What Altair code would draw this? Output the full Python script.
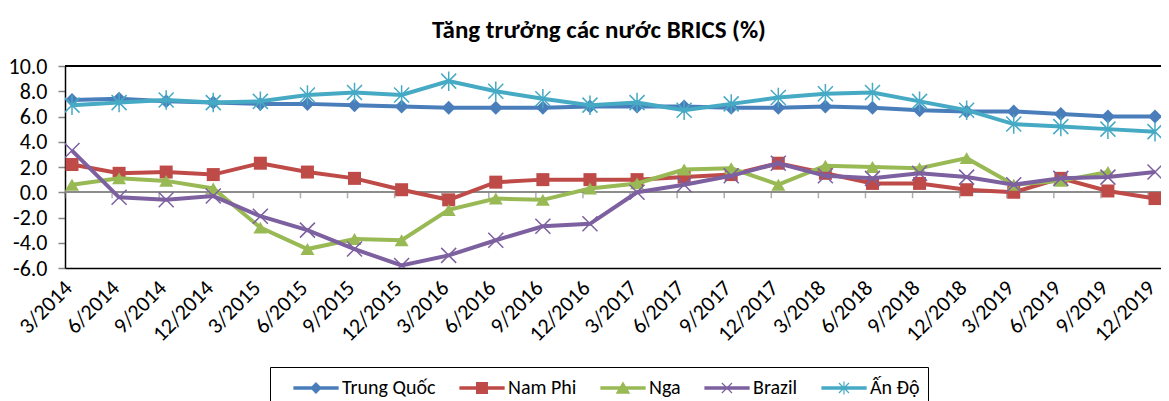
import json
import altair as alt
import pandas as pd

# ---------------- data ----------------
labels = ["3/2014", "6/2014", "9/2014", "12/2014", "3/2015", "6/2015", "9/2015", "12/2015",
          "3/2016", "6/2016", "9/2016", "12/2016", "3/2017", "6/2017", "9/2017", "12/2017",
          "3/2018", "6/2018", "9/2018", "12/2018", "3/2019", "6/2019", "9/2019", "12/2019"]

series_names = ["Trung Quốc", "Nam Phi", "Nga", "Brazil", "Ấn Độ"]

trung_quoc = [7.3, 7.4, 7.2, 7.1, 7.0, 7.0, 6.9, 6.8, 6.7, 6.7, 6.7, 6.8,
              6.8, 6.8, 6.7, 6.7, 6.8, 6.7, 6.5, 6.4, 6.4, 6.2, 6.0, 6.0]
nam_phi = [2.2, 1.5, 1.6, 1.4, 2.3, 1.6, 1.1, 0.2, -0.6, 0.8, 1.0, 1.0,
           1.0, 1.2, 1.4, 2.3, 1.5, 0.7, 0.7, 0.2, 0.0, 1.1, 0.1, -0.5]
nga = [0.6, 1.1, 0.9, 0.3, -2.8, -4.5, -3.7, -3.8, -1.4, -0.5, -0.6, 0.3,
       0.7, 1.8, 1.9, 0.6, 2.1, 2.0, 1.9, 2.7, 0.6, 0.9, 1.6, None]
brazil = [3.3, -0.4, -0.6, -0.3, -1.9, -3.0, -4.5, -5.8, -5.0, -3.8, -2.7, -2.5,
          0.0, 0.6, 1.3, 2.3, 1.3, 1.1, 1.5, 1.2, 0.6, 1.1, 1.2, 1.6]
an_do = [6.9, 7.1, 7.3, 7.1, 7.2, 7.7, 7.9, 7.7, 8.8, 8.0, 7.4, 6.9,
         7.1, 6.5, 7.0, 7.5, 7.8, 7.9, 7.2, 6.5, 5.4, 5.2, 5.0, 4.8]

y_ticks = [-6, -4, -2, 0, 2, 4, 6, 8, 10]

# ---------------- styles ----------------
FONT = "Carlito, Lato, 'Open Sans', sans-serif"
colors = ["#4A7EBB", "#BE4B48", "#98B954", "#7D60A0", "#46AAC5"]

marker_paths = [
    "M0,-1L1,0L0,1L-1,0Z",
    "M-1,-1L1,-1L1,1L-1,1Z",
    "M0,-0.85L1,0.85L-1,0.85Z",
    "M-1,-1L1,1M-1,1L1,-1",
    "M-1,-1L1,1M-1,1L1,-1M0,-1.3L0,1.3",
]
marker_filled = [True, True, True, False, False]
marker_sizes = [196, 169, 196, 225, 225]

BAR = "M0.25,-0.09L3.92,-0.09L3.92,0.09L0.25,0.09Z"
C = 2.08
legend_paths = [
    BAR + f"M{C},-0.42L{C+0.42},0L{C},0.42L{C-0.42},0Z",
    BAR + f"M{C-0.45},-0.45L{C+0.45},-0.45L{C+0.45},0.45L{C-0.45},0.45Z",
    BAR + f"M{C},-0.45L{C+0.52},0.42L{C-0.52},0.42Z",
    BAR + f"M{C-0.42},-0.42L{C+0.42},0.42M{C-0.42},0.42L{C+0.42},-0.42",
    BAR + f"M{C-0.42},-0.42L{C+0.42},0.42M{C-0.42},0.42L{C+0.42},-0.42M{C},-0.55L{C},0.55",
]

# ---------------- tables ----------------
rows = []
for s, vals in zip(series_names, [trung_quoc, nam_phi, nga, brazil, an_do]):
    for i, v in enumerate(vals):
        if v is not None:
            rows.append({"idx": i, "label": labels[i], "series": s, "value": v})
df = pd.DataFrame(rows)
ticks_df = pd.DataFrame({"idx": list(range(len(labels)))})

STEP = 47.09
W, H = 1096, 202
PAD_CAT = 7 / STEP
x_scale = alt.Scale(domain=[-PAD_CAT, len(labels) - 1 + 6 / STEP], nice=False, zero=False)
y_scale = alt.Scale(domain=[-6, 10], nice=False)

x_axis = alt.Axis(
    values=list(range(len(labels))),
    labelExpr=f"{json.dumps(labels, ensure_ascii=False)}[datum.value]",
    labelAngle=-45, labelAlign="right", labelBaseline="middle",
    labelPadding=16, labelOffset=-4, ticks=False, domainColor="black", domainWidth=1.5,
    grid=False, title=None, labelFont=FONT, labelFontSize=22, labelColor="black",
    labelOverlap=False, labelFlush=False,
)
y_axis = alt.Axis(
    values=y_ticks,
    labelExpr="replace(format(datum.value, '.1f'), '\u2212', '-')",
    tickSize=7, tickColor="#868686", tickWidth=1.5, domainColor="black", domainWidth=1.5,
    labelPadding=11, grid=False, title=None, labelFont=FONT, labelFontSize=22,
    labelColor="black",
)

X = alt.X("idx:Q", scale=x_scale, axis=x_axis)
Y = alt.Y("value:Q", scale=y_scale, axis=y_axis)

base = alt.Chart(df)

layers = []
# zero line
layers.append(
    alt.Chart(ticks_df).mark_rule(color="#8C8C8C", strokeWidth=1.5).encode(
        y=alt.YDatum(0, scale=y_scale, axis=y_axis, type="quantitative")
    )
)
# zero-line tick marks at category boundaries
layers.append(
    alt.Chart(ticks_df).transform_calculate(tx=f"datum.idx - {PAD_CAT}").mark_tick(
        orient="vertical", color="#8C8C8C", thickness=1.5, size=6, yOffset=3
    ).encode(
        x=alt.X("tx:Q", scale=x_scale, axis=x_axis),
        y=alt.YDatum(0, scale=y_scale, axis=y_axis, type="quantitative"),
    )
)
for s, col, path, filled, size in zip(series_names, colors, marker_paths, marker_filled, marker_sizes):
    sub = base.transform_filter(alt.datum.series == s)
    layers.append(
        sub.mark_line(strokeWidth=4, color=col, clip=True).encode(x=X, y=Y)
    )
    layers.append(
        sub.mark_point(shape=path, filled=filled, size=size, strokeWidth=1.5,
                       color=col, opacity=1, clip=True).encode(x=X, y=Y)
    )

legend = alt.Legend(
    orient="none", legendX=205, legendY=301, direction="horizontal", title=None,
    strokeColor="black", padding=8, symbolSize=576, symbolStrokeWidth=1.2,
    symbolFillColor="black", symbolStrokeColor="black",
    labelOffset=38, columnPadding=8, labelFont=FONT, labelFontSize=20,
    labelColor="black", symbolOpacity=1, labelLimit=300,
)
legend_layer = base.transform_filter("false").mark_point(filled=True).encode(
    x=X, y=Y,
    fill=alt.Fill("series:N", scale=alt.Scale(domain=series_names, range=colors), legend=legend),
    stroke=alt.Stroke("series:N", scale=alt.Scale(domain=series_names, range=colors), legend=legend),
    shape=alt.Shape("series:N", scale=alt.Scale(domain=series_names, range=legend_paths), legend=legend),
)
layers.append(legend_layer)

# top frame line
layers.append(
    alt.Chart(ticks_df).mark_rule(color="black", strokeWidth=1.5).encode(y=alt.value(0))
)

chart = alt.layer(*layers).properties(
    width=W, height=H,
    title=alt.TitleParams(
        "Tăng trưởng các nước BRICS (%)", font=FONT, fontSize=25, fontWeight="bold",
        color="black", anchor="middle", dx=-14, offset=12,
    ),
    autosize=alt.AutoSizeParams(type="none"),
    padding={"left": 57, "top": 58, "right": 0, "bottom": 133},
).configure_view(stroke=None)

chart.save("out.html", embed_options={"renderer": "svg", "actions": False})
